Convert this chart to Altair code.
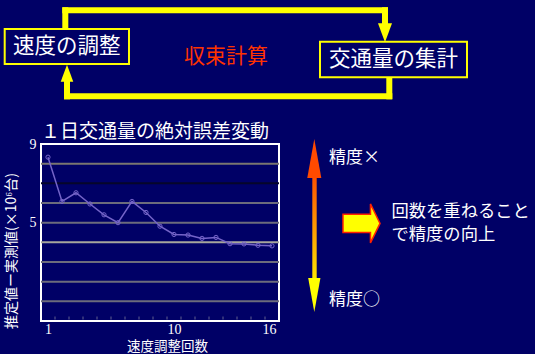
import altair as alt
import pandas as pd

# ---- data -------------------------------------------------------------
iterations = list(range(1, 18))
abs_error = [8.33, 6.08, 6.52, 5.95, 5.40, 5.00, 6.08, 5.52, 4.82,
             4.40, 4.37, 4.20, 4.25, 3.93, 3.92, 3.85, 3.82]

grid_levels = [1, 2, 3, 4, 5, 6, 7, 8]
grid_colors = ["#6c6c7c", "#6c6c7c", "#6c6c7c", "#a6a69c",
               "#6c6c7c", "#6c6c7c", "#06062a", "#7a7670"]

x_tick_values = [1, 10, 16]
y_tick_values = [9, 5]
minor_ticks = [i + 0.5 for i in range(1, 17)]

# ---- layout -----------------------------------------------------------
BG = "#000066"
YEL = "#ffff00"
JP = "Noto Sans CJK JP"
SERIF = "Liberation Serif"
PL, PT = 41, 144            # plot-area origin on the page
PW, PH = 238, 177           # plot-area size


def px(v):
    return alt.value(v - PL)


def py(v):
    return alt.value(v - PT)


one = pd.DataFrame({"k": [0]})

df = pd.DataFrame({"iteration": iterations, "error": abs_error})
grid_df = pd.DataFrame({"level": grid_levels, "color": grid_colors})
minor_df = pd.DataFrame({"pos": minor_ticks})

xs = alt.Scale(domain=[0.5, 17.5], nice=False)
ys = alt.Scale(domain=[0, 9], nice=False)

grid = alt.Chart(grid_df).mark_rule(strokeWidth=2).encode(
    y=alt.Y("level:Q", scale=ys),
    color=alt.Color("color:N", scale=None),
)

minor = alt.Chart(minor_df).mark_tick(
    orient="vertical", size=3, thickness=1, color="#8a8aa0"
).encode(
    x=alt.X("pos:Q", scale=xs),
    y=alt.value(PH - 3),
)

line = alt.Chart(df).mark_line(
    color="#7464c8", strokeWidth=1.5,
    point=alt.OverlayMarkDef(filled=False, color="#7464c8", size=18, strokeWidth=1),
).encode(
    x=alt.X("iteration:Q", scale=xs,
            axis=alt.Axis(values=x_tick_values, domain=False, ticks=False, grid=False,
                          title=None, labelFont=SERIF, labelFontSize=14,
                          labelColor="white", labelPadding=1,
                          labelOffset={"condition": {"test": "datum.value === 16", "value": 11},
                                       "value": 0})),
    y=alt.Y("error:Q", scale=ys,
            axis=alt.Axis(values=y_tick_values, domain=False, ticks=False, grid=False,
                          title=None, labelFont=SERIF, labelFontSize=14,
                          labelColor="white", labelPadding=5)),
)


def text(t, x, y, size, color="white", font=JP, align="center", angle=0):
    return alt.Chart(one).mark_text(
        text=t, font=font, fontSize=size, color=color, align=align,
        baseline="middle", angle=angle,
    ).encode(x=px(x), y=py(y))


def seg(x1, y1, x2, y2, color=YEL, w=6):
    return alt.Chart(one).mark_rule(color=color, strokeWidth=w, strokeCap="square").encode(
        x=px(x1), x2=px(x2), y=py(y1), y2=py(y2))


def head(x, y, size, path, color):
    return alt.Chart(one).mark_point(
        shape=path, size=size, filled=True, fill=color, color=color, opacity=1,
        strokeWidth=0,
    ).encode(x=px(x), y=py(y))


def box(x1, y1, x2, y2):
    return alt.Chart(one).mark_rect(fill=BG, stroke=YEL, strokeWidth=2).encode(
        x=px(x1), x2=px(x2), y=py(y1), y2=py(y2))


DOWN = "M-0.74,-1L0.74,-1L0,1Z"
UP = "M-0.74,1L0.74,1L0,-1Z"
DOWN2 = "M-0.36,-1L0.36,-1L0,1Z"
UP2 = "M-0.36,1L0.36,1L0,-1Z"

# iteration loop between the two steps
loop = [
    seg(65.3, 29, 65.3, 10.3),
    seg(65.3, 10.3, 385, 10.3),
    seg(385, 10.3, 385, 25),
    head(385, 32.7, 19 ** 2, DOWN, YEL),
    seg(389.3, 77, 389.3, 96.3),
    seg(389.3, 96.3, 67, 96.3),
    seg(67, 96.3, 67, 80),
    head(67, 73.3, 17 ** 2, UP, YEL),
    box(4.7, 29, 129, 64),
    box(320, 41.7, 467, 77.3),
    text("速度の調整", 66.8, 46.5, 21.5),
    text("交通量の集計", 393.5, 59.8, 21.5),
    text("収束計算", 226, 57.3, 21, color="#ff3300"),
]

# accuracy scale arrow
gradient = alt.Gradient(
    gradient="linear", x1=0, y1=0, x2=0, y2=1,
    stops=[alt.GradientStop(color="#ff5000", offset=0),
           alt.GradientStop(color="#ffe800", offset=1)],
)
shaft = alt.Chart(one).mark_rect(fill=gradient).encode(
    x=px(312.3), x2=px(316.7), y=py(176), y2=py(281))
scale_arrow = [
    shaft,
    head(314.3, 158.5, 39 ** 2, UP2, "#ff4a00"),
    head(314.3, 295, 34 ** 2, DOWN2, "#ffff00"),
    text("精度×", 329, 158.3, 17, align="left"),
    text("精度○", 329, 300, 17, align="left"),
]

BLOCK = "M-0.95,-0.47L0.46,-0.47L0.46,-1L0.95,0L0.46,1L0.46,0.47L-0.95,0.47Z"
block_arrow = alt.Chart(one).mark_point(
    shape=BLOCK, size=39 ** 2, filled=True, fill=YEL, stroke="#ff2000",
    strokeWidth=1.5, opacity=1,
).encode(x=px(361.5), y=py(223.4))

notes = [
    block_arrow,
    text("回数を重ねること", 391.5, 211.7, 17.3, align="left"),
    text("で精度の向上", 391.5, 235, 17.3, align="left"),
]

labels = [
    text("１日交通量の絶対誤差変動", 155, 131.5, 19),
    text("速度調整回数", 167.5, 347, 13.5),
    text("推定値ー実測値(×10⁶台)", 11.5, 251, 14, angle=270),
]

chart = alt.layer(
    grid, minor, line, *loop, *scale_arrow, *notes, *labels
).properties(
    width=PW, height=PH,
    background=BG,
    padding={"left": PL, "top": PT, "right": 535 - PL - PW, "bottom": 354 - PT - PH},
    autosize=alt.AutoSizeParams(type="none"),
).configure_view(
    stroke="white", strokeWidth=2, fill=BG, clip=False,
)

chart.save("out.html", embed_options={"renderer": "svg", "actions": False})
